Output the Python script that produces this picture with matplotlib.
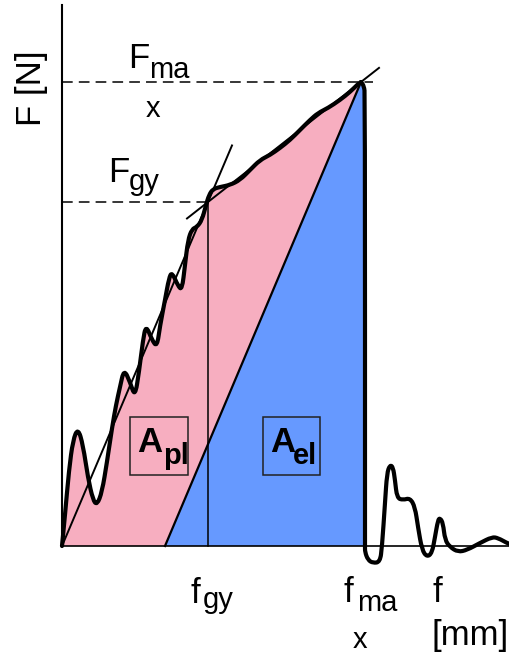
import matplotlib.pyplot as plt
from matplotlib.patches import Rectangle, PathPatch
from matplotlib.path import Path

plt.rcParams['font.family'] = ['Liberation Sans', 'DejaVu Sans']

# loading part of the force curve (f in mm, F in N, schematic units)
load_f = [0, 0.3, 0.7, 1.1, 1.6, 2.1, 2.6, 3.1, 3.5, 4.0, 4.5, 5.0, 5.4, 5.8,
          6.2, 6.8, 7.3, 7.7, 8.1, 8.4, 9.0, 9.5, 9.8, 10.3, 10.7, 11.0, 11.6,
          12.0, 12.3, 12.6, 13.0, 13.5, 14.0, 14.4, 14.7, 15.1, 15.8, 16.8,
          17.8, 18.8, 19.8, 20.8, 21.8, 22.8, 23.8, 24.8, 25.6, 26.6, 27.8,
          28.8, 29.6, 29.9]
load_F = [0, 3.1, 7.6, 10.6, 11.8, 10.1, 6.8, 4.6, 4.1, 5.4, 8.4, 11.8, 14.1,
          15.9, 17.7, 16.4, 14.9, 17.4, 20.6, 22.1, 20.6, 19.9, 22.0, 24.6,
          26.8, 27.4, 26.0, 25.6, 28.1, 30.6, 31.7, 31.9, 32.6, 34.1, 35.1,
          35.7, 35.9, 36.1, 36.6, 37.6, 38.6, 39.1, 39.8, 40.6, 41.6, 42.6,
          43.3, 43.8, 44.6, 45.4, 46.2, 46.4]

# breaking part after the maximum
break_f = [29.9, 30.2, 30.3, 30.3, 30.3, 30.6, 31.1, 31.8, 32.0, 32.3, 32.5,
           32.8, 33.1, 33.3, 33.5, 34.1, 34.8, 35.3, 35.6, 36.0, 36.5, 37.0,
           37.3, 37.6, 37.8, 38.1, 38.3, 38.8, 39.6, 40.5, 41.8, 43.0, 43.6,
           44.5, 44.8]
break_F = [46.4, 46.0, 45.1, 0, -0.6, -1.4, -1.7, -1.6, -0.1, 4.3, 7.3, 8.1,
           7.9, 6.6, 4.8, 4.6, 4.8, 3.9, 1.9, -0.4, -1.1, -0.7, 0.9, 2.6, 2.8,
           2.3, 0.6, -0.1, -0.6, -0.4, 0.3, 0.9, 0.8, 0.3, 0.2]

f_gy, F_gy = 14.6, 34.4
f_max, F_max = 29.9, 46.4
f_unload = 30.3
f_el_foot = 10.3
y_axis_top = 54.1
x_axis_end = 44.8

pink = '#f7aec0'
blue = '#6699ff'


def smooth_verts(xs, ys):
    # quadratic bezier through the midpoints, the read points act as controls
    pts = list(zip(xs, ys))
    verts = [pts[0], ((pts[0][0] + pts[1][0]) / 2, (pts[0][1] + pts[1][1]) / 2)]
    codes = [Path.MOVETO, Path.LINETO]
    for i in range(1, len(pts) - 1):
        mid = ((pts[i][0] + pts[i + 1][0]) / 2, (pts[i][1] + pts[i + 1][1]) / 2)
        verts += [pts[i], mid]
        codes += [Path.CURVE3, Path.CURVE3]
    verts.append(pts[-1])
    codes.append(Path.LINETO)
    return verts, codes


fig = plt.figure(figsize=(5.10, 6.54), dpi=100)
ax = fig.add_axes([0, 0, 1, 1])
ax.set_xlim(-6.2, 44.8)
ax.set_ylim(-10.8, 54.6)
ax.axis('off')

# plastic area under the curve, elastic triangle on top
lv, lc = smooth_verts(load_f, load_F)
fill_path = Path(lv + [(f_unload, break_F[2]), (f_unload, 0), (0, 0), (0, 0)],
                 lc + [Path.LINETO, Path.LINETO, Path.LINETO, Path.CLOSEPOLY])
ax.add_patch(PathPatch(fill_path, fc=pink, lw=0))
ax.fill([f_el_foot, f_max, f_unload, f_unload], [0, F_max, break_F[2], 0],
        color=blue, lw=0)

# construction lines
ax.plot([f_gy, f_gy], [0, F_gy], color='black', lw=1.1)
slope1 = F_gy / f_gy
ax.plot([0, 17.0], [0, slope1 * 17.0], color='black', lw=1.4)
slope2 = (F_max - F_gy) / (f_max - f_gy)
ax.plot([12.5, 31.7], [F_gy + slope2 * (12.5 - f_gy), F_gy + slope2 * (31.7 - f_gy)],
        color='black', lw=1.4)
ax.plot([f_el_foot, f_max], [0, F_max], color='black', lw=1.6)
ax.plot([0, 31.1], [F_max, F_max], color='black', lw=1.1, ls=(0, (7, 4)))
ax.plot([0, f_gy], [F_gy, F_gy], color='black', lw=1.1, ls=(0, (7, 4)))

# axes
ax.plot([0, 0], [0, y_axis_top], color='black', lw=1.5)
ax.plot([0, x_axis_end], [0, 0], color='black', lw=1.2)

# force curve
ax.add_patch(PathPatch(Path(lv, lc), fill=False, ec='black', lw=3.0,
                       joinstyle='round', capstyle='round'))
bv, bc = smooth_verts(break_f, break_F)
ax.add_patch(PathPatch(Path(bv, bc), fill=False, ec='black', lw=3.0,
                       joinstyle='round', capstyle='round'))

big = 25
small = 21
ax.text(-3.0, 45.8, 'F [N]', rotation=90, fontsize=big, ha='center', va='center')
ax.text(6.6, 47.8, 'F', fontsize=big)
ax.text(8.7, 46.8, 'ma', fontsize=small)
ax.text(8.4, 42.9, 'x', fontsize=small)
ax.text(4.6, 36.4, 'F', fontsize=big)
ax.text(6.7, 35.6, 'gy', fontsize=small)

ax.text(12.9, -5.7, 'f', fontsize=big)
ax.text(14.1, -6.2, 'gy', fontsize=small)
ax.text(28.2, -5.6, 'f', fontsize=big)
ax.text(29.5, -6.5, 'ma', fontsize=small)
ax.text(29.1, -10.2, 'x', fontsize=small)
ax.text(37.1, -5.6, 'f', fontsize=big)
ax.text(37.0, -9.9, '[mm]', fontsize=big)

# area labels
for x0, x1, sub, xs in [(6.8, 12.6, 'pl', 10.1), (20.1, 25.8, 'el', 23.1)]:
    ax.add_patch(Rectangle((x0, 7.1), x1 - x0, 5.8, fill=False, ec='#222222', lw=1.1))
    ax.text(x0 + 0.7, 9.4, 'A', fontsize=big, fontweight='bold')
    ax.text(xs, 8.2, sub, fontsize=small, fontweight='bold')

fig.savefig('out.png', dpi=100)
